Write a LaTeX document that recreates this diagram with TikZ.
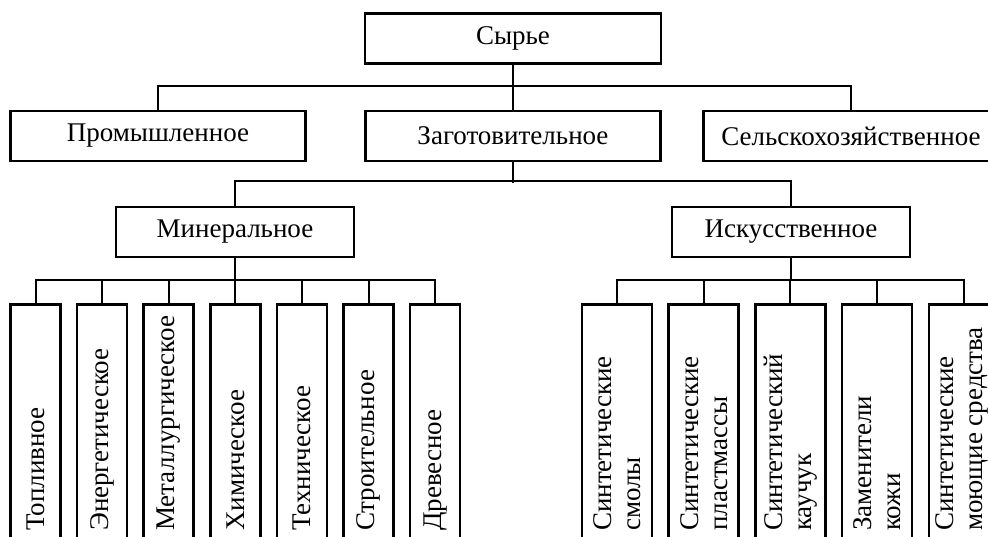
\documentclass[tikz,border=0pt]{standalone}
\usepackage{fontspec}
\setmainfont{Liberation Serif}
\begin{document}
\begin{tikzpicture}[x=1pt,y=-1pt,
  box/.style={draw,line width=2.6pt,rectangle,inner sep=0pt,minimum height=50pt,font=\fontsize{27}{30}\selectfont},
  vbox/.style={draw,line width=2.6pt,rectangle,inner sep=0pt,anchor=north,minimum height=280pt},
  vlab/.style={rotate=90,anchor=west,inner sep=0pt,align=left,font=\fontsize{27}{29}\selectfont},
  conn/.style={line width=2pt}]
\useasboundingbox (0,0) rectangle (988,537);
\clip (0,0) rectangle (988,537);
% level 1
\node[box,minimum width=296pt] (syr) at (513,38.5) {Сырье};
% level 2
\node[box,minimum width=295pt] (prom) at (158,136) {Промышленное};
\node[box,minimum width=295pt] (zag) at (513,136) {Заготовительное};
\node[box,minimum width=295pt] (selsk) at (851,136) {Сельскохозяйственное};
% level 3
\node[box,minimum width=238pt] (min) at (235,232) {Минеральное};
\node[box,minimum width=238pt] (isk) at (791,232) {Искусственное};
% level 4 left
\foreach \i/\t in {1/Топливное,2/Энергетическое,3/Металлургическое,4/Химическое,5/Техническое,6/Строительное,7/Древесное}{
  \node[vbox,minimum width=50pt] (m\i) at ({35.5+66.6*(\i-1)},303) {};
  \node[vlab] (ml\i) at ({35.5+66.6*(\i-1)},531) {\t};
}
% level 4 right
\foreach \i/\t in {1/{Синтетические\\смолы},2/{Синтетические\\пластмассы},3/{Синтетический\\каучук},4/{Заменители\\кожи}}{
  \node[vbox,minimum width=70pt] (s\i) at ({617+86.7*(\i-1)},303) {};
  \node[vlab] (sl\i) at ({617+86.7*(\i-1)},531) {\t};
}
\node[vbox,minimum width=70pt] (s5) at (963.8,303) {};
\node[vlab] (sl5) at (961.5,531) {Синтетические\\моющие средства};
% connectors
\draw[conn] (syr.south) -- (zag.north);
\draw[conn] (prom.north) -- ++(0,-24) -| (selsk.north);
\draw[conn] (zag.south) -- ++(0,21);
\draw[conn] (min.north) -- ++(0,-25) -| (isk.north);
\draw[conn] (min.south) -- ++(0,23);
\draw[conn] (m1.north) -- ++(0,-23) -| (m7.north);
\foreach \i in {2,...,6}{\draw[conn] (m\i.north) -- ++(0,-23);}
\draw[conn] (isk.south) -- ++(0,23);
\draw[conn] (s1.north) -- ++(0,-23) -| (s5.north);
\foreach \i in {2,3,4}{\draw[conn] (s\i.north) -- ++(0,-23);}
\end{tikzpicture}
\end{document}
